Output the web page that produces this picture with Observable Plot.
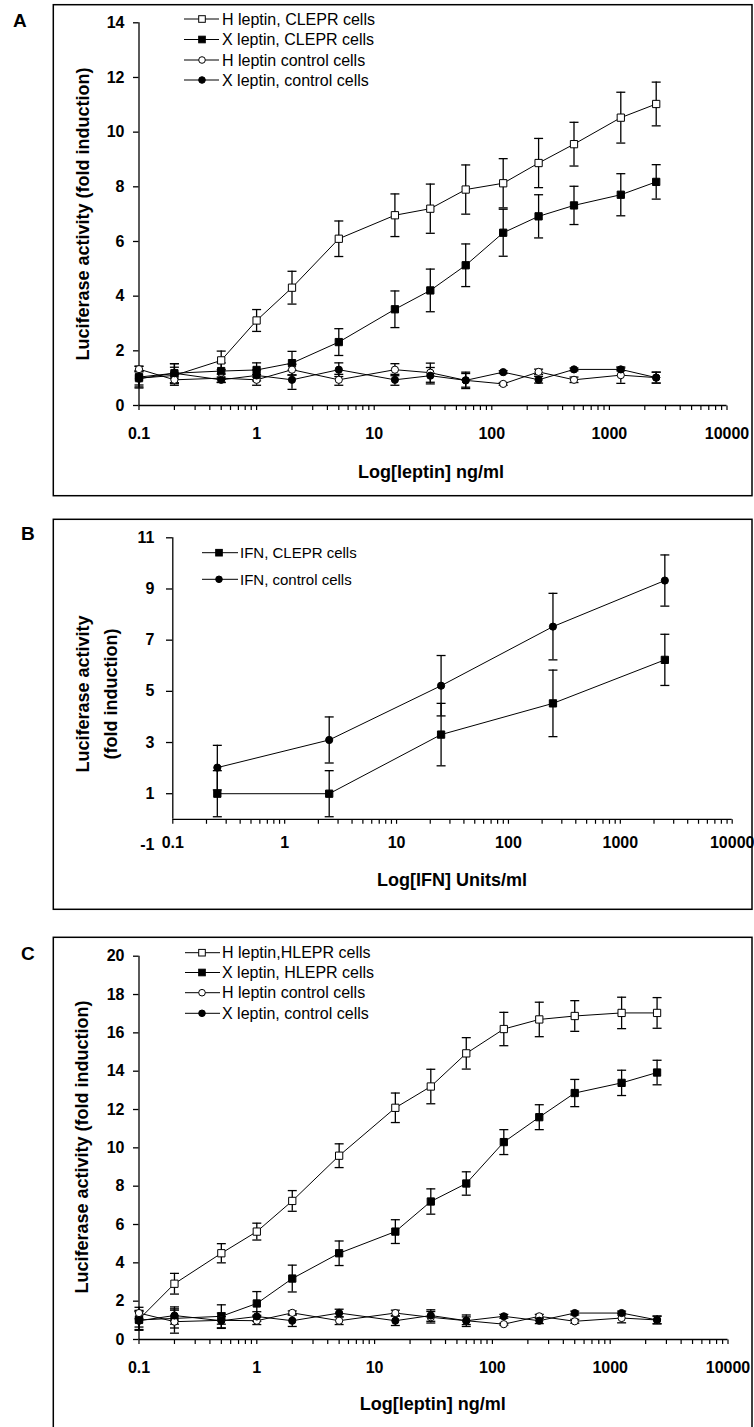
<!DOCTYPE html>
<html><head><meta charset="utf-8">
<script src="https://cdn.jsdelivr.net/npm/d3@7"></script>
<script src="https://cdn.jsdelivr.net/npm/@observablehq/plot@0.6"></script>
<style>
html,body{margin:0;padding:0;background:#fff;}
body{width:754px;height:1427px;position:relative;overflow:hidden;font-family:"Liberation Sans",Arial,sans-serif;}
svg{overflow:visible;}
</style></head><body>
<div id="root"></div>
<script>
// ---------- data ----------
const dosesLeptin = [0.1, 0.2, 0.5, 1, 2, 5, 15, 30, 60, 125, 250, 500, 1250, 2500];
const dosesIFN = [0.25, 2.5, 25, 250, 2500];

const xTicks = [0.1, 1, 10, 100, 1000, 10000];
const xTickLabels = ["0.1", "1", "10", "100", "1000", "10000"];
const minorMultipliers = [2, 3, 4, 5, 6, 7, 8, 9];
const yTicksA = [0, 2, 4, 6, 8, 10, 12, 14];
const yTicksB = [1, 3, 5, 7, 9, 11];
const yExtraB = [-1];
const yTicksC = [0, 2, 4, 6, 8, 10, 12, 14, 16, 18, 20];

// Panel A
const namesA = ["H leptin, CLEPR cells", "X leptin, CLEPR cells", "H leptin control cells", "X leptin, control cells"];
const hLeptinCLEPR = [1.0, 1.1, 1.65, 3.11, 4.31, 6.1, 6.96, 7.2, 7.9, 8.13, 8.87, 9.56, 10.53, 11.03];
const hLeptinCLEPRerr = [0.25, 0.3, 0.34, 0.4, 0.6, 0.65, 0.78, 0.9, 0.9, 0.9, 0.9, 0.8, 0.93, 0.8];
const xLeptinCLEPR = [1.04, 1.18, 1.26, 1.3, 1.55, 2.32, 3.52, 4.21, 5.13, 6.32, 6.92, 7.32, 7.71, 8.18];
const xLeptinCLEPRerr = [0.4, 0.35, 0.3, 0.26, 0.43, 0.49, 0.67, 0.78, 0.78, 0.86, 0.79, 0.7, 0.77, 0.63];
const hLeptinCtrlA = [1.33, 0.94, 1.0, 0.94, 1.31, 0.94, 1.31, 1.2, 0.92, 0.79, 1.23, 0.94, 1.11, 1.02];
const hLeptinCtrlAerr = [0.1, 0.2, 0.15, 0.2, 0.2, 0.2, 0.22, 0.35, 0.25, 0.05, 0.1, 0.1, 0.3, 0.2];
const xLeptinCtrlA = [0.98, 1.18, 0.94, 1.1, 0.94, 1.31, 0.94, 1.09, 0.92, 1.22, 0.94, 1.32, 1.32, 1.02];
const xLeptinCtrlAerr = [0.3, 0.35, 0.1, 0.2, 0.35, 0.25, 0.2, 0.3, 0.3, 0.05, 0.12, 0.05, 0.05, 0.2];

// Panel B
const namesB = ["IFN, CLEPR cells", "IFN, control cells"];
const ifnCLEPR = [1.0, 1.0, 3.31, 4.53, 6.23];
const ifnCLEPRerr = [0.9, 0.9, 1.22, 1.3, 1.0];
const ifnCtrl = [2.02, 3.1, 5.22, 7.53, 9.33];
const ifnCtrlErr = [0.87, 0.9, 1.18, 1.3, 1.0];

// Panel C
const namesC = ["H leptin,HLEPR cells", "X leptin, HLEPR cells", "H leptin control cells", "X leptin, control cells"];
const hLeptinHLEPR = [1.05, 2.91, 4.5, 5.63, 7.23, 9.59, 12.09, 13.2, 14.93, 16.2, 16.7, 16.88, 17.04, 17.04];
const hLeptinHLEPRerr = [0.4, 0.54, 0.5, 0.44, 0.54, 0.62, 0.77, 0.9, 0.82, 0.87, 0.9, 0.8, 0.82, 0.8];
const xLeptinHLEPR = [1.02, 1.1, 1.21, 1.88, 3.18, 4.5, 5.63, 7.2, 8.14, 10.3, 11.6, 12.86, 13.39, 13.93];
const xLeptinHLEPRerr = [0.5, 0.5, 0.6, 0.62, 0.7, 0.64, 0.62, 0.66, 0.61, 0.65, 0.65, 0.71, 0.66, 0.64];
const hLeptinCtrlC = [1.38, 0.93, 1.0, 0.98, 1.39, 0.98, 1.38, 1.16, 0.98, 0.8, 1.21, 0.95, 1.12, 1.02];
const hLeptinCtrlCerr = [0.3, 0.6, 0.2, 0.2, 0.1, 0.2, 0.15, 0.3, 0.2, 0.05, 0.1, 0.1, 0.25, 0.2];
const xLeptinCtrlC = [0.98, 1.25, 0.98, 1.2, 0.98, 1.38, 0.98, 1.25, 0.98, 1.21, 0.98, 1.38, 1.38, 1.02];
const xLeptinCtrlCerr = [0.5, 0.45, 0.4, 0.25, 0.3, 0.2, 0.25, 0.3, 0.3, 0.1, 0.15, 0.1, 0.1, 0.2];

// ---------- helpers ----------
const FONT = '"Liberation Sans", Arial, Helvetica, sans-serif';
const root = document.getElementById("root");
const minorTicks = xTicks.slice(0, -1).flatMap(d => minorMultipliers.map(m => +(d * m).toPrecision(3)));
const tickLabel = new Map(xTicks.map((d, i) => [d, xTickLabels[i]]));
const capSymbol = {draw(ctx) { ctx.moveTo(-4.5, 0); ctx.lineTo(4.5, 0); }};
const tickDown = {draw(ctx) { ctx.moveTo(0, 0); ctx.lineTo(0, 4.5); }};

function rows(doses, vals, errs) { return doses.map((x, i) => ({x, y: vals[i], e: errs[i]})); }

function seriesMarks(series) {
  const bars = [], lines = [], dots = [];
  for (const s of series) {
    const data = rows(s.doses, s.values, s.errors);
    bars.push(Plot.ruleX(data, {x: "x", y1: d => d.y - d.e, y2: d => d.y + d.e, stroke: "black", strokeWidth: 1.3}));
    bars.push(Plot.dot(data, {x: "x", y: d => d.y + d.e, symbol: capSymbol, fill: "none", stroke: "black", strokeWidth: 1.3}));
    bars.push(Plot.dot(data, {x: "x", y: d => d.y - d.e, symbol: capSymbol, fill: "none", stroke: "black", strokeWidth: 1.3}));
    lines.push(Plot.line(data, {x: "x", y: "y", stroke: "black", strokeWidth: 1}));
    dots.push(Plot.dot(data, {x: "x", y: "y", symbol: s.symbol, fill: s.fill, stroke: "black", strokeWidth: 1, r: s.symbol === "square" ? 4.1 : 3.6}));
  }
  return [...bars, ...lines, ...dots];
}

function panel(o) {
  const svg = Plot.plot({
    width: 754, height: o.height,
    marginTop: o.marginTop, marginBottom: o.marginBottom, marginLeft: o.marginLeft, marginRight: o.marginRight,
    x: {type: "log", domain: [0.1, 10000]},
    y: {domain: o.yDomain},
    style: {fontFamily: FONT, fontSize: "16px", fontWeight: "bold", background: "transparent", color: "black", overflow: "visible"},
    marks: [
      Plot.ruleX([0.1], {stroke: "black", strokeWidth: 1.3}),
      Plot.ruleY([o.yDomain[0]], {stroke: "black", strokeWidth: 1.3}),
      Plot.dot(minorTicks, {x: d => d, y: () => o.yDomain[0], symbol: tickDown, fill: "none", stroke: "black", strokeWidth: 1.2}),
      Plot.dot(xTicks, {x: d => d, y: () => o.yDomain[0], symbol: tickDown, fill: "none", stroke: "black", strokeWidth: 1.2}),
      Plot.axisX({ticks: xTicks, tickSize: 0, tickPadding: o.xPad, tickFormat: d => tickLabel.get(d), label: null, fontSize: 16, fontWeight: "bold"}),
      Plot.axisY({ticks: o.yTicks, tickSize: o.yTickSize, tickPadding: o.yPad, tickFormat: d => String(d), label: null, fontSize: 16, fontWeight: "bold", strokeWidth: 1.3}),
      ...(o.yExtra ? [Plot.axisY({ticks: o.yExtra, tickSize: 0, tickPadding: o.yPad + o.yTickSize, tickFormat: d => String(d), label: null, fontSize: 16, fontWeight: "bold"})] : []),
      ...seriesMarks(o.series)
    ]
  });
  svg.style.position = "absolute";
  svg.style.left = "0px";
  svg.style.top = o.top + "px";
  root.appendChild(svg);
}

// ---------- panels ----------
panel({
  top: 0, height: 440, marginTop: 22.3, marginBottom: 35, marginLeft: 138.5, marginRight: 27.5,
  yDomain: [0, 14], yTicks: yTicksA, yTickSize: 5.5, yPad: 9, xPad: 22,
  series: [
    {doses: dosesLeptin, values: hLeptinCLEPR, errors: hLeptinCLEPRerr, symbol: "square", fill: "white"},
    {doses: dosesLeptin, values: xLeptinCLEPR, errors: xLeptinCLEPRerr, symbol: "square", fill: "black"},
    {doses: dosesLeptin, values: hLeptinCtrlA, errors: hLeptinCtrlAerr, symbol: "circle", fill: "white"},
    {doses: dosesLeptin, values: xLeptinCtrlA, errors: xLeptinCtrlAerr, symbol: "circle", fill: "black"}
  ]
});
panel({
  top: 500, height: 360, marginTop: 37.3, marginBottom: 41.2, marginLeft: 172.3, marginRight: 22.3,
  yDomain: [0, 11], yTicks: yTicksB, yExtra: yExtraB, yTickSize: 6.3, yPad: 12, xPad: 17.5,
  series: [
    {doses: dosesIFN, values: ifnCLEPR, errors: ifnCLEPRerr, symbol: "square", fill: "black"},
    {doses: dosesIFN, values: ifnCtrl, errors: ifnCtrlErr, symbol: "circle", fill: "black"}
  ]
});
panel({
  top: 930, height: 445, marginTop: 25.7, marginBottom: 36, marginLeft: 138.5, marginRight: 26.5,
  yDomain: [0, 20], yTicks: yTicksC, yTickSize: 5.5, yPad: 9, xPad: 22.3,
  series: [
    {doses: dosesLeptin, values: hLeptinHLEPR, errors: hLeptinHLEPRerr, symbol: "square", fill: "white"},
    {doses: dosesLeptin, values: xLeptinHLEPR, errors: xLeptinHLEPRerr, symbol: "square", fill: "black"},
    {doses: dosesLeptin, values: hLeptinCtrlC, errors: hLeptinCtrlCerr, symbol: "circle", fill: "white"},
    {doses: dosesLeptin, values: xLeptinCtrlC, errors: xLeptinCtrlCerr, symbol: "circle", fill: "black"}
  ]
});

// ---------- overlay: frames, letters, titles, legends ----------
const ov = d3.select(root).append("svg")
  .attr("width", 754).attr("height", 1427)
  .style("position", "absolute").style("left", "0px").style("top", "0px")
  .style("font-family", FONT);

[[4.7, 491], [519.3, 390], [937.3, 600]].forEach(([y, h]) => {
  ov.append("rect").attr("x", 53.3).attr("y", y).attr("width", 752 - 53.3).attr("height", h)
    .attr("fill", "none").attr("stroke", "black").attr("stroke-width", 1.5);
});

[["A", 13, 20.7], ["B", 21, 533.7], ["C", 21, 953.7]].forEach(([t, x, y]) => {
  ov.append("text").text(t).attr("x", x).attr("y", y).attr("dy", "0.35em")
    .attr("font-size", 19).attr("font-weight", "bold");
});

function ytitle(t, x, y) {
  ov.append("text").text(t).attr("transform", `translate(${x},${y}) rotate(-90)`)
    .attr("text-anchor", "middle").attr("dy", "0.35em").attr("font-size", 18).attr("font-weight", "bold");
}
function xtitle(t, x, y) {
  ov.append("text").text(t).attr("x", x).attr("y", y).attr("text-anchor", "middle")
    .attr("dy", "0.35em").attr("font-size", 18).attr("font-weight", "bold");
}
ytitle("Luciferase activity (fold induction)", 83, 214);
ytitle("Luciferase activity", 82.7, 694);
ytitle("(fold induction)", 111, 694);
ytitle("Luciferase activity (fold induction)", 82, 1147);
xtitle("Log[leptin] ng/ml", 431, 471.7);
xtitle("Log[IFN] Units/ml", 452, 880);
xtitle("Log[leptin] ng/ml", 432.7, 1403.7);

function legend(names, styles, ys, x1, x2, xm, xt, fs) {
  names.forEach((n, i) => {
    const y = ys[i], st = styles[i];
    ov.append("line").attr("x1", x1).attr("x2", x2).attr("y1", y).attr("y2", y).attr("stroke", "black").attr("stroke-width", 1);
    if (st.symbol === "square") {
      ov.append("rect").attr("x", xm - 3.3).attr("y", y - 3.3).attr("width", 6.6).attr("height", 6.6)
        .attr("fill", st.fill).attr("stroke", "black").attr("stroke-width", 1);
    } else {
      ov.append("circle").attr("cx", xm).attr("cy", y).attr("r", 3.3)
        .attr("fill", st.fill).attr("stroke", "black").attr("stroke-width", 1);
    }
    ov.append("text").text(n).attr("x", xt).attr("y", y).attr("dy", "0.35em").attr("font-size", fs);
  });
}
const st4 = [{symbol: "square", fill: "white"}, {symbol: "square", fill: "black"}, {symbol: "circle", fill: "white"}, {symbol: "circle", fill: "black"}];
legend(namesA, st4, [19, 39.5, 60, 80], 184, 219, 202, 222, 16);
legend(namesB, [{symbol: "square", fill: "black"}, {symbol: "circle", fill: "black"}], [552.7, 579.3], 202, 238, 219, 240, 15);
legend(namesC, st4, [952.7, 972.5, 992.7, 1013.3], 185, 220, 202, 222, 16);
</script>
</body></html>
